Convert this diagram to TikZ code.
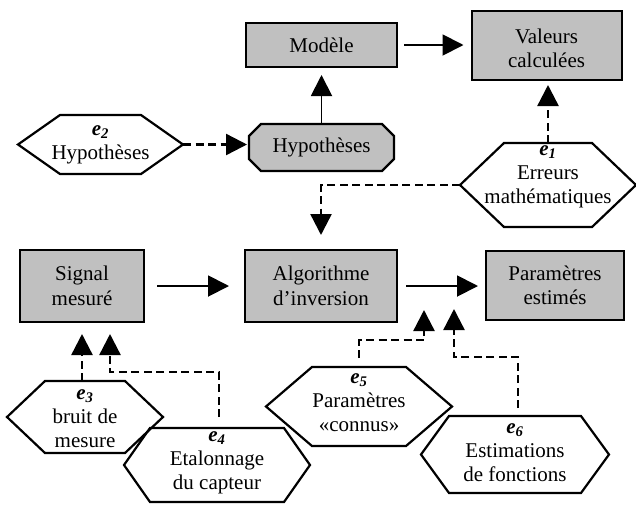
\documentclass[tikz,border=0pt]{standalone}
\usepackage{fontspec}
\setmainfont{Liberation Serif}
\usetikzlibrary{arrows.meta,calc}
\definecolor{boxgray}{RGB}{192,192,192}
\newcommand\hexshape[8]{%
  \node[hexbase, minimum width=#4, minimum height=#5] (#1) at (#2,#3) {};
  \draw[hexline] (#1.west) -- ([xshift=#6]#1.north west) -- ([xshift=-#6]#1.north east)
    -- (#1.east) -- ([xshift=-#6]#1.south east) -- ([xshift=#6]#1.south west) -- cycle;
  \node[lbl] (#1t) at ($(#1)+(0,#7)$) {#8};
}
\newcommand\elab[1]{{\bfseries\itshape e\textsubscript{#1}}}
\begin{document}
\begin{tikzpicture}[x=1pt,y=-1pt,
  lbl/.style={align=center, inner sep=0pt, font=\fontsize{21}{24}\selectfont},
  boxnode/.style={draw, line width=2pt, fill=boxgray, align=center, inner sep=0pt,
     font=\fontsize{21}{24.5}\selectfont},
  hexbase/.style={inner sep=0pt, outer sep=0pt},
  hexline/.style={draw, line width=2.2pt, line join=miter},
  solidarr/.style={line width=1.9pt, -{Triangle[length=21pt,width=21pt]}},
  dasharr/.style={line width=2.4pt, dash pattern=on 8pt off 4.5pt, -{Triangle[length=21pt,width=21pt]}}
]
\useasboundingbox (0,0) rectangle (636,504);

% boxes
\node[boxnode, minimum width=151pt, minimum height=44pt] (model) at (321.5,45) {Modèle};
\node[boxnode, minimum width=150pt, minimum height=69pt] (valeurs) at (546.5,45.5) {};
\node[lbl] (valeurst) at ($(valeurs)+(0,3)$) {Valeurs\\calculées};
\node[boxnode, minimum width=124pt, minimum height=72pt] (signal) at (82,286) {Signal\\mesuré};
\node[boxnode, minimum width=152pt, minimum height=72pt] (algo) at (321,286) {Algorithme\\d’inversion};
\node[boxnode, minimum width=138pt, minimum height=69pt] (param) at (555,285.5) {Paramètres\\estimés};

% octagon
\node[hexbase, minimum width=145pt, minimum height=47pt] (hyp) at (321.5,147.5) {};
\draw[hexline, fill=boxgray]
  ([xshift=12pt]hyp.north west) -- ([xshift=-12pt]hyp.north east)
  -- ([yshift=-12pt]hyp.north east) -- ([yshift=12pt]hyp.south east)
  -- ([xshift=-12pt]hyp.south east) -- ([xshift=12pt]hyp.south west)
  -- ([yshift=12pt]hyp.south west) -- ([yshift=-12pt]hyp.north west) -- cycle;
\node[lbl] (hypt) at (hyp) {Hypothèses};

% hexagons
\hexshape{e2}{100.5}{144.5}{165pt}{59pt}{42pt}{0}{\elab{2}\\Hypothèses}
\hexshape{e1}{548}{185}{176pt}{84pt}{44pt}{-8}{\elab{1}\\Erreurs\\mathématiques}
\hexshape{e3}{85}{417}{156pt}{72pt}{38pt}{2}{\elab{3}\\bruit de\\mesure}
\hexshape{e4}{217}{465}{186pt}{74pt}{26pt}{-2}{\elab{4}\\Etalonnage\\du capteur}
\hexshape{e5}{359}{406.5}{186pt}{79pt}{46pt}{-4}{\elab{5}\\Paramètres\\«connus»}
\hexshape{e6}{515}{454.5}{188pt}{77pt}{28pt}{-1.5}{\elab{6}\\Estimations\\de fonctions}

% helper coordinates
\coordinate (s4) at ($(signal.south)+(28,0)$);
\coordinate (e4a) at ($(e4.north)+(2,-11)$);
\coordinate (j4) at ($(e4.north)+(2,-56)$);
\coordinate (e5a) at ($(e5.north)+(0,-9)$);
\coordinate (j5) at ($(e5.north)+(0,-27)$);
\coordinate (t5) at (424,310);
\coordinate (e6a) at ($(e6.north)+(3,-8)$);
\coordinate (j6) at ($(e6.north)+(3,-59)$);
\coordinate (t6) at (454,309);

% connectors
\draw[solidarr, shorten <=6pt, shorten >=7pt] (model.east) -- (model.east -| valeurs.west);
\draw[solidarr, shorten >=7pt] (hyp.north) -- (model.south);
\draw[dasharr, shorten >=2pt] (e2.east) -- (e2.east -| hyp.west);
\draw[dasharr, shorten >=4pt] (e1.north) -- (e1.north |- valeurs.south);
\draw[dasharr, shorten >=14pt] (e1.west) -| (algo.north);
\draw[solidarr, shorten <=12pt, shorten >=15pt] (signal.east) -- (signal.east -| algo.west);
\draw[solidarr, shorten <=8pt, shorten >=7pt] (algo.east) -- (algo.east -| param.west);
\draw[dasharr, shorten >=11pt] (e3.north -| signal.south) -- (signal.south);
\draw[dasharr, shorten >=11pt] (e4a) -- (j4) -| (s4);
\draw[dasharr] (e5a) -- (j5) -| (t5);
\draw[dasharr] (e6a) -- (j6) -| (t6);
\end{tikzpicture}
\end{document}
